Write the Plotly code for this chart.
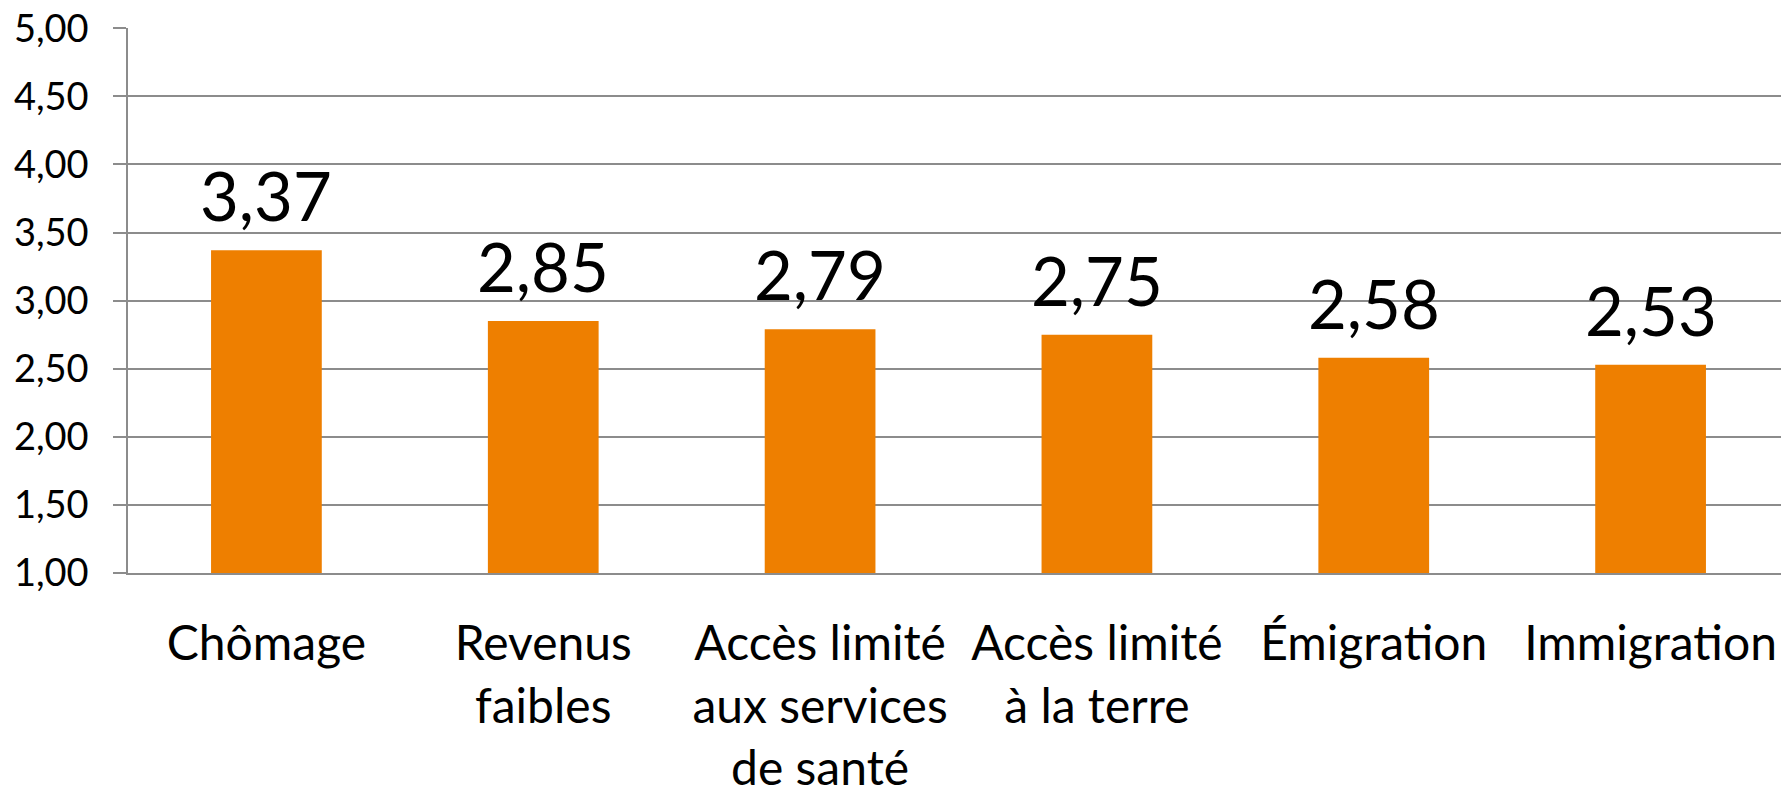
import plotly.graph_objects as go

categories = ["Chômage", "Revenus<br>faibles", "Accès limité<br>aux services<br>de santé",
              "Accès limité<br>à la terre", "Émigration", "Immigration"]
values = [3.37, 2.85, 2.79, 2.75, 2.58, 2.53]
y_ticks = [1.0, 1.5, 2.0, 2.5, 3.0, 3.5, 4.0, 4.5, 5.0]

FONT = "Lato, Carlito, 'Liberation Sans', sans-serif"
BAR = "#EE7F00"
GRID = "#8C8C8C"

fig = go.Figure(go.Bar(x=categories, y=values, marker=dict(color=BAR, line=dict(width=0)),
                       width=0.4, hoverinfo="skip"))

for c, v in zip(categories, values):
    fig.add_annotation(x=c, y=v, xref="x", yref="y", text=f"{v:.2f}".replace(".", ","),
                       showarrow=False, yanchor="bottom", yshift=13,
                       font=dict(family=FONT, size=67, color="black"))

# the page body adds an 8px offset, so the figure is 8px smaller in each direction
fig.update_layout(
    width=1781, height=784,
    margin=dict(l=120, r=0, t=20, b=219, autoexpand=False),
    paper_bgcolor="white", plot_bgcolor="white",
    separators=", ",
    showlegend=False,
    font=dict(family=FONT, color="black"),
)
fig.update_yaxes(range=[1, 5.002], tickvals=y_ticks, tickformat=".2f",
                 showgrid=True, gridcolor=GRID, gridwidth=1.5,
                 showline=True, linecolor=GRID, linewidth=1.5,
                 ticks="outside", ticklen=13, tickcolor=GRID, tickwidth=1.5,
                 ticklabelstandoff=17, automargin=False, ticklabeloverflow="allow",
                 tickfont=dict(family=FONT, size=38, color="black"),
                 zeroline=False, fixedrange=True)
fig.update_xaxes(showline=True, linecolor=GRID, linewidth=1.5, ticks="",
                 tickfont=dict(family=FONT, size=48, color="black"),
                 ticklabelstandoff=28, automargin=False, ticklabeloverflow="allow",
                 fixedrange=True)

fig.write_html("out.html")
